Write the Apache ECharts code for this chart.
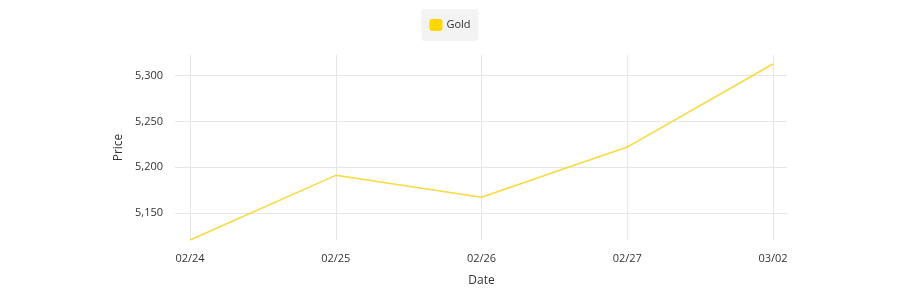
<!DOCTYPE html>
<html>
<head>
<meta charset="utf-8">
<style>
  html, body { margin: 0; padding: 0; background: #fff; }
  #chart { width: 900px; height: 301px; }
</style>
<script src="https://cdn.jsdelivr.net/npm/echarts@6/dist/echarts.min.js"></script>
</head>
<body>
<div id="chart"></div>
<script>
const categories = ['02/24', '02/25', '02/26', '02/27', '03/02'];
const goldPrices = [5120.6, 5191.2, 5167.2, 5222.1, 5312.8];
const seriesName = 'Gold';
const yMin = 5120.6;
const yMax = 5322.6;

const FONT = '"Open Sans", "Noto Sans", sans-serif';
const chart = echarts.init(document.getElementById('chart'), null, { renderer: 'canvas' });

chart.setOption({
  animation: false,
  textStyle: { fontFamily: FONT },
  legend: {
    data: [{ name: seriesName, icon: 'roundRect' }],
    top: 9,
    left: 'center',
    backgroundColor: '#f3f3f3',
    borderRadius: 3,
    padding: [10, 8, 10, 8],
    itemWidth: 13,
    itemHeight: 12,
    itemGap: 10,
    textStyle: { fontSize: 11, color: '#333', fontFamily: FONT, padding: [0, 0, 0, -1] }
  },
  grid: [
    { left: 190, right: 127, top: 55, height: 185 },
    { left: 175, right: 113, top: 55, height: 185 }
  ],
  xAxis: [
    {
      type: 'category',
      gridIndex: 0,
      data: categories,
      boundaryGap: false,
      axisLine: { show: false },
      axisTick: { show: false },
      axisLabel: { color: '#333', fontSize: 11, margin: 13, fontFamily: FONT },
      splitLine: { show: true, lineStyle: { color: '#e6e6e6', width: 1 } },
      name: 'Date',
      nameLocation: 'middle',
      nameGap: 35,
      nameTextStyle: { color: '#333', fontSize: 12, fontFamily: FONT }
    },
    {
      type: 'category',
      gridIndex: 1,
      data: categories,
      show: false
    }
  ],
  yAxis: [
    {
      type: 'value',
      gridIndex: 0,
      min: yMin,
      max: yMax,
      show: false,
      splitLine: { show: false }
    },
    {
      type: 'value',
      gridIndex: 1,
      min: yMin,
      max: yMax,
      splitNumber: 4,
      axisLine: { show: false },
      axisTick: { show: false },
      axisLabel: {
        color: '#333', fontSize: 11, margin: 12, fontFamily: FONT,
        showMinLabel: false, showMaxLabel: false,
        formatter: v => (Math.abs(v % 50) < 1e-6 ? v.toLocaleString('en-US') : '')
      },
      splitLine: { show: true, showMinLine: false, showMaxLine: false, lineStyle: { color: '#e6e6e6', width: 1 } },
      name: 'Price',
      nameLocation: 'middle',
      nameGap: 50,
      nameTextStyle: { color: '#333', fontSize: 12, fontFamily: FONT }
    }
  ],
  series: [
    {
      name: seriesName,
      type: 'line',
      xAxisIndex: 0,
      yAxisIndex: 0,
      data: goldPrices,
      showSymbol: false,
      symbol: 'none',
      itemStyle: { color: '#FFD700' },
      lineStyle: { color: '#F7D940', width: 1.5 }
    }
  ]
});
</script>
</body>
</html>
